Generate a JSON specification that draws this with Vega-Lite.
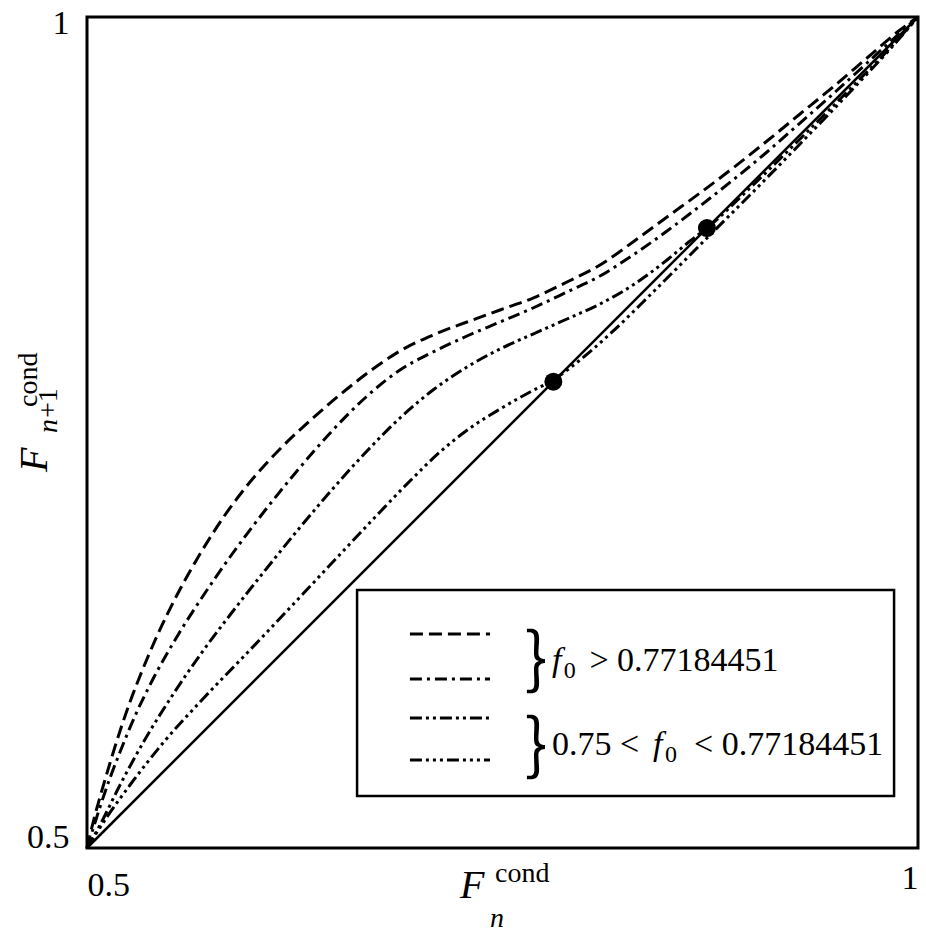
{
  "$schema": "https://vega.github.io/schema/vega-lite/v6.json",
  "width": 831,
  "height": 831,
  "autosize": {"type": "none"},
  "padding": {"left": 87, "top": 17, "right": 8, "bottom": 87},
  "background": "white",
  "config": {
    "view": {"stroke": "black", "strokeWidth": 3},
    "axis": {"grid": false, "ticks": false, "tickSize": 0, "domain": false, "labelFont": "Liberation Serif", "labelFontSize": 34, "labelColor": "black", "title": null},
    "text": {"font": "Liberation Serif", "color": "black"}
  },
  "datasets": {
    "curves": [
      {"series": "A", "x": 0.5, "y": 0.5},
      {"series": "A", "x": 0.50181, "y": 0.50783},
      {"series": "A", "x": 0.50481, "y": 0.51985},
      {"series": "A", "x": 0.50782, "y": 0.53068},
      {"series": "A", "x": 0.51384, "y": 0.55114},
      {"series": "A", "x": 0.51986, "y": 0.5704},
      {"series": "A", "x": 0.52587, "y": 0.58784},
      {"series": "A", "x": 0.53189, "y": 0.60349},
      {"series": "A", "x": 0.54212, "y": 0.62756},
      {"series": "A", "x": 0.55415, "y": 0.65222},
      {"series": "A", "x": 0.56799, "y": 0.67689},
      {"series": "A", "x": 0.58303, "y": 0.70036},
      {"series": "A", "x": 0.59807, "y": 0.72021},
      {"series": "A", "x": 0.61612, "y": 0.74007},
      {"series": "A", "x": 0.63598, "y": 0.75872},
      {"series": "A", "x": 0.65644, "y": 0.77617},
      {"series": "A", "x": 0.67629, "y": 0.79121},
      {"series": "A", "x": 0.68833, "y": 0.79904},
      {"series": "A", "x": 0.70818, "y": 0.80866},
      {"series": "A", "x": 0.72864, "y": 0.81649},
      {"series": "A", "x": 0.7485, "y": 0.82371},
      {"series": "A", "x": 0.76835, "y": 0.83092},
      {"series": "A", "x": 0.78881, "y": 0.84055},
      {"series": "A", "x": 0.80866, "y": 0.85078},
      {"series": "A", "x": 0.82852, "y": 0.86462},
      {"series": "A", "x": 0.84898, "y": 0.87967},
      {"series": "A", "x": 0.86883, "y": 0.8941},
      {"series": "A", "x": 0.88869, "y": 0.90915},
      {"series": "A", "x": 0.90914, "y": 0.92539},
      {"series": "A", "x": 0.929, "y": 0.94164},
      {"series": "A", "x": 0.94885, "y": 0.95788},
      {"series": "A", "x": 0.96931, "y": 0.97533},
      {"series": "A", "x": 0.98917, "y": 0.99218},
      {"series": "A", "x": 1, "y": 1},
      {"series": "B", "x": 0.5, "y": 0.5},
      {"series": "B", "x": 0.50361, "y": 0.51143},
      {"series": "B", "x": 0.50782, "y": 0.52467},
      {"series": "B", "x": 0.51384, "y": 0.54212},
      {"series": "B", "x": 0.51986, "y": 0.55777},
      {"series": "B", "x": 0.52888, "y": 0.57942},
      {"series": "B", "x": 0.53971, "y": 0.60168},
      {"series": "B", "x": 0.55475, "y": 0.62816},
      {"series": "B", "x": 0.5698, "y": 0.65163},
      {"series": "B", "x": 0.58604, "y": 0.67509},
      {"series": "B", "x": 0.60589, "y": 0.70156},
      {"series": "B", "x": 0.62635, "y": 0.72683},
      {"series": "B", "x": 0.64741, "y": 0.7509},
      {"series": "B", "x": 0.66727, "y": 0.77076},
      {"series": "B", "x": 0.68833, "y": 0.78761},
      {"series": "B", "x": 0.70818, "y": 0.79843},
      {"series": "B", "x": 0.72864, "y": 0.80806},
      {"series": "B", "x": 0.7485, "y": 0.81649},
      {"series": "B", "x": 0.76835, "y": 0.82491},
      {"series": "B", "x": 0.78881, "y": 0.83454},
      {"series": "B", "x": 0.80866, "y": 0.84416},
      {"series": "B", "x": 0.82852, "y": 0.8568},
      {"series": "B", "x": 0.84898, "y": 0.87124},
      {"series": "B", "x": 0.86883, "y": 0.88628},
      {"series": "B", "x": 0.88869, "y": 0.90193},
      {"series": "B", "x": 0.90914, "y": 0.91877},
      {"series": "B", "x": 0.929, "y": 0.93622},
      {"series": "B", "x": 0.94885, "y": 0.95366},
      {"series": "B", "x": 0.96931, "y": 0.97232},
      {"series": "B", "x": 0.98917, "y": 0.99037},
      {"series": "B", "x": 1, "y": 1},
      {"series": "C", "x": 0.5, "y": 0.5},
      {"series": "C", "x": 0.50782, "y": 0.51384},
      {"series": "C", "x": 0.51986, "y": 0.53791},
      {"series": "C", "x": 0.5361, "y": 0.56739},
      {"series": "C", "x": 0.55114, "y": 0.59145},
      {"series": "C", "x": 0.56799, "y": 0.61612},
      {"series": "C", "x": 0.58604, "y": 0.64019},
      {"series": "C", "x": 0.60589, "y": 0.66546},
      {"series": "C", "x": 0.62635, "y": 0.69073},
      {"series": "C", "x": 0.64621, "y": 0.7142},
      {"series": "C", "x": 0.66847, "y": 0.73887},
      {"series": "C", "x": 0.68833, "y": 0.75873},
      {"series": "C", "x": 0.70818, "y": 0.77557},
      {"series": "C", "x": 0.72864, "y": 0.78941},
      {"series": "C", "x": 0.7485, "y": 0.80024},
      {"series": "C", "x": 0.76835, "y": 0.80926},
      {"series": "C", "x": 0.78881, "y": 0.81829},
      {"series": "C", "x": 0.80866, "y": 0.82731},
      {"series": "C", "x": 0.82852, "y": 0.83875},
      {"series": "C", "x": 0.84898, "y": 0.85379},
      {"series": "C", "x": 0.86282, "y": 0.86523},
      {"series": "C", "x": 0.87304, "y": 0.87304},
      {"series": "C", "x": 0.89892, "y": 0.89711},
      {"series": "C", "x": 0.929, "y": 0.92659},
      {"series": "C", "x": 0.95909, "y": 0.95668},
      {"series": "C", "x": 0.98315, "y": 0.98134},
      {"series": "C", "x": 1, "y": 1},
      {"series": "D", "x": 0.5, "y": 0.5},
      {"series": "D", "x": 0.51203, "y": 0.51865},
      {"series": "D", "x": 0.52587, "y": 0.5379},
      {"series": "D", "x": 0.54573, "y": 0.56318},
      {"series": "D", "x": 0.56799, "y": 0.58785},
      {"series": "D", "x": 0.5963, "y": 0.6173},
      {"series": "D", "x": 0.6282, "y": 0.651},
      {"series": "D", "x": 0.6564, "y": 0.6811},
      {"series": "D", "x": 0.6763, "y": 0.7022},
      {"series": "D", "x": 0.6943, "y": 0.7208},
      {"series": "D", "x": 0.7124, "y": 0.7383},
      {"series": "D", "x": 0.7305, "y": 0.7527},
      {"series": "D", "x": 0.7485, "y": 0.7641},
      {"series": "D", "x": 0.7666, "y": 0.7744},
      {"series": "D", "x": 0.7804, "y": 0.7816},
      {"series": "D", "x": 0.7966, "y": 0.7936},
      {"series": "D", "x": 0.8147, "y": 0.8093},
      {"series": "D", "x": 0.8388, "y": 0.8327},
      {"series": "D", "x": 0.8688, "y": 0.8628},
      {"series": "D", "x": 0.8989, "y": 0.8929},
      {"series": "D", "x": 0.929, "y": 0.9236},
      {"series": "D", "x": 0.9591, "y": 0.9549},
      {"series": "D", "x": 0.9832, "y": 0.9807},
      {"series": "D", "x": 1, "y": 1}
    ],
    "diagonal": [{"x": 0.5, "y": 0.5}, {"x": 1, "y": 1}],
    "fixed": [{"x": 0.7806, "y": 0.7806}, {"x": 0.873, "y": 0.873}]
  },
  "layer": [
    {
      "data": {"name": "diagonal"},
      "mark": {"type": "line", "color": "black", "strokeWidth": 2.5},
      "encoding": {
        "x": {"field": "x", "type": "quantitative", "scale": {"domain": [0.5, 1], "nice": false, "zero": false}, "axis": {"values": [0.5, 1], "format": "~g", "labelFlush": true, "labelPadding": {"condition": {"test": "datum.value == 1", "value": 13}, "value": 20}}},
        "y": {"field": "y", "type": "quantitative", "scale": {"domain": [0.5, 1], "nice": false, "zero": false}, "axis": {"values": [0.5, 1], "format": "~g", "labelFlush": true, "labelFlushOffset": 6, "labelPadding": 18, "labelOffset": {"condition": {"test": "datum.value == 1", "value": -5}, "value": 0}}}
      }
    },
    {
      "data": {"name": "curves"},
      "mark": {"type": "line", "interpolate": "monotone", "color": "black", "strokeWidth": 3},
      "encoding": {
        "x": {"field": "x", "type": "quantitative"},
        "y": {"field": "y", "type": "quantitative"},
        "strokeDash": {"field": "series", "type": "nominal", "legend": null, "scale": {"domain": ["A", "B", "C", "D"], "range": [[13, 6], [12, 5, 3, 5], [12, 4, 3, 4, 3, 4], [12, 4, 3, 4, 3, 4, 3, 4]]}}
      }
    },
    {
      "data": {"name": "fixed"},
      "mark": {"type": "point", "filled": true, "color": "black", "opacity": 1, "size": 324},
      "encoding": {
        "x": {"field": "x", "type": "quantitative"},
        "y": {"field": "y", "type": "quantitative"}
      }
    },
    {
      "data": {"values": [{}]},
      "mark": {"type": "rect", "fill": "white", "stroke": "black", "strokeWidth": 2.5},
      "encoding": {
        "x": {"datum": 0.6625, "type": "quantitative"},
        "x2": {"datum": 0.9856},
        "y": {"datum": 0.6552, "type": "quantitative"},
        "y2": {"datum": 0.5313}
      }
    },
    {
      "data": {"values": [{"series": "A"}]},
      "mark": {"type": "rule", "color": "black", "strokeWidth": 3},
      "encoding": {
        "x": {"datum": 0.6943, "type": "quantitative"}, "x2": {"datum": 0.7425},
        "y": {"datum": 0.6288, "type": "quantitative"},
        "strokeDash": {"field": "series", "type": "nominal", "legend": null}
      }
    },
    {
      "data": {"values": [{"series": "B"}]},
      "mark": {"type": "rule", "color": "black", "strokeWidth": 3},
      "encoding": {
        "x": {"datum": 0.6943, "type": "quantitative"}, "x2": {"datum": 0.7425},
        "y": {"datum": 0.6017, "type": "quantitative"},
        "strokeDash": {"field": "series", "type": "nominal", "legend": null}
      }
    },
    {
      "data": {"values": [{"series": "C"}]},
      "mark": {"type": "rule", "color": "black", "strokeWidth": 3},
      "encoding": {
        "x": {"datum": 0.6943, "type": "quantitative"}, "x2": {"datum": 0.7425},
        "y": {"datum": 0.5782, "type": "quantitative"},
        "strokeDash": {"field": "series", "type": "nominal", "legend": null}
      }
    },
    {
      "data": {"values": [{"series": "D"}]},
      "mark": {"type": "rule", "color": "black", "strokeWidth": 3},
      "encoding": {
        "x": {"datum": 0.6943, "type": "quantitative"}, "x2": {"datum": 0.7425},
        "y": {"datum": 0.553, "type": "quantitative"},
        "strokeDash": {"field": "series", "type": "nominal", "legend": null}
      }
    },
    {
      "data": {"values": [{"t": "︷"}]},
      "mark": {"type": "text", "font": "Noto Sans CJK SC", "fontSize": 68, "angle": 90, "align": "center", "baseline": "middle"},
      "encoding": {"text": {"field": "t"}, "x": {"datum": 0.7803, "type": "quantitative"}, "y": {"datum": 0.6125, "type": "quantitative"}}
    },
    {
      "data": {"values": [{"t": "︷"}]},
      "mark": {"type": "text", "font": "Noto Sans CJK SC", "fontSize": 68, "angle": 90, "align": "center", "baseline": "middle"},
      "encoding": {"text": {"field": "t"}, "x": {"datum": 0.7803, "type": "quantitative"}, "y": {"datum": 0.5608, "type": "quantitative"}}
    },
    {
      "data": {"values": [{"t": "f"}]},
      "mark": {"type": "text", "fontSize": 34, "fontStyle": "italic", "align": "left", "baseline": "alphabetic"},
      "encoding": {"text": {"field": "t"}, "x": {"datum": 0.7798, "type": "quantitative"}, "y": {"datum": 0.6065, "type": "quantitative"}}
    },
    {
      "data": {"values": [{"t": "0"}]},
      "mark": {"type": "text", "fontSize": 24, "align": "left", "baseline": "alphabetic"},
      "encoding": {"text": {"field": "t"}, "x": {"datum": 0.7868, "type": "quantitative"}, "y": {"datum": 0.6023, "type": "quantitative"}}
    },
    {
      "data": {"values": [{"t": "> 0.77184451"}]},
      "mark": {"type": "text", "fontSize": 34, "align": "left", "baseline": "alphabetic"},
      "encoding": {"text": {"field": "t"}, "x": {"datum": 0.8023, "type": "quantitative"}, "y": {"datum": 0.6065, "type": "quantitative"}}
    },
    {
      "data": {"values": [{"t": "0.75 <"}]},
      "mark": {"type": "text", "fontSize": 34, "align": "left", "baseline": "alphabetic"},
      "encoding": {"text": {"field": "t"}, "x": {"datum": 0.7798, "type": "quantitative"}, "y": {"datum": 0.556, "type": "quantitative"}}
    },
    {
      "data": {"values": [{"t": "f"}]},
      "mark": {"type": "text", "fontSize": 34, "fontStyle": "italic", "align": "left", "baseline": "alphabetic"},
      "encoding": {"text": {"field": "t"}, "x": {"datum": 0.8406, "type": "quantitative"}, "y": {"datum": 0.556, "type": "quantitative"}}
    },
    {
      "data": {"values": [{"t": "0"}]},
      "mark": {"type": "text", "fontSize": 24, "align": "left", "baseline": "alphabetic"},
      "encoding": {"text": {"field": "t"}, "x": {"datum": 0.8478, "type": "quantitative"}, "y": {"datum": 0.5517, "type": "quantitative"}}
    },
    {
      "data": {"values": [{"t": "< 0.77184451"}]},
      "mark": {"type": "text", "fontSize": 34, "align": "left", "baseline": "alphabetic"},
      "encoding": {"text": {"field": "t"}, "x": {"datum": 0.8652, "type": "quantitative"}, "y": {"datum": 0.556, "type": "quantitative"}}
    },
    {
      "data": {"values": [{"t": "F"}]},
      "mark": {"type": "text", "fontSize": 40, "fontStyle": "italic", "align": "left", "baseline": "alphabetic"},
      "encoding": {"text": {"field": "t"}, "x": {"datum": 0.7244, "type": "quantitative"}, "y": {"datum": 0.4699, "type": "quantitative"}}
    },
    {
      "data": {"values": [{"t": "cond"}]},
      "mark": {"type": "text", "fontSize": 28, "align": "left", "baseline": "alphabetic"},
      "encoding": {"text": {"field": "t"}, "x": {"datum": 0.7455, "type": "quantitative"}, "y": {"datum": 0.4795, "type": "quantitative"}}
    },
    {
      "data": {"values": [{"t": "n"}]},
      "mark": {"type": "text", "fontSize": 28, "fontStyle": "italic", "align": "left", "baseline": "alphabetic"},
      "encoding": {"text": {"field": "t"}, "x": {"datum": 0.7425, "type": "quantitative"}, "y": {"datum": 0.4525, "type": "quantitative"}}
    },
    {
      "data": {"values": [{"t": "F"}]},
      "mark": {"type": "text", "fontSize": 40, "fontStyle": "italic", "angle": 270, "align": "left", "baseline": "alphabetic"},
      "encoding": {"text": {"field": "t"}, "x": {"datum": 0.4759, "type": "quantitative"}, "y": {"datum": 0.7262, "type": "quantitative"}}
    },
    {
      "data": {"values": [{"t": "cond"}]},
      "mark": {"type": "text", "fontSize": 28, "angle": 270, "align": "left", "baseline": "alphabetic"},
      "encoding": {"text": {"field": "t"}, "x": {"datum": 0.4699, "type": "quantitative"}, "y": {"datum": 0.7654, "type": "quantitative"}}
    },
    {
      "data": {"values": [{"t": "n"}]},
      "mark": {"type": "text", "fontSize": 28, "fontStyle": "italic", "angle": 270, "align": "left", "baseline": "alphabetic"},
      "encoding": {"text": {"field": "t"}, "x": {"datum": 0.482, "type": "quantitative"}, "y": {"datum": 0.7497, "type": "quantitative"}}
    },
    {
      "data": {"values": [{"t": "+1"}]},
      "mark": {"type": "text", "fontSize": 28, "angle": 270, "align": "left", "baseline": "alphabetic"},
      "encoding": {"text": {"field": "t"}, "x": {"datum": 0.482, "type": "quantitative"}, "y": {"datum": 0.7587, "type": "quantitative"}}
    }
  ]
}
